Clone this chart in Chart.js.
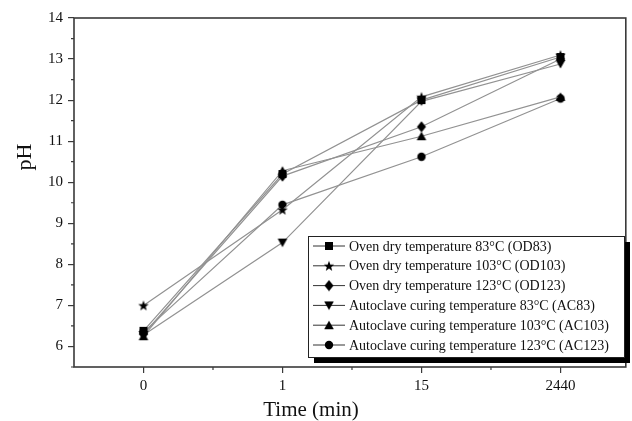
<!DOCTYPE html>
<html lang="en">
<head>
<meta charset="UTF-8">
<title>pH vs time</title>
<script src="https://cdn.jsdelivr.net/npm/chart.js"></script>
<style>
  html, body { margin: 0; padding: 0; background: #fff; }
  #wrap { width: 632px; height: 421px; }
</style>
</head>
<body>
<div id="wrap"><canvas id="myChart" width="632" height="421"></canvas></div>
<script>
// time points (categorical, evenly spaced)
var times = ['0', '1', '15', '2440'];
var yTicks = [6, 7, 8, 9, 10, 11, 12, 13, 14];

var labels = [
  'Oven dry temperature 83\u00B0C (OD83)',
  'Oven dry temperature 103\u00B0C (OD103)',
  'Oven dry temperature 123\u00B0C (OD123)',
  'Autoclave curing temperature 83\u00B0C (AC83)',
  'Autoclave curing temperature 103\u00B0C (AC103)',
  'Autoclave curing temperature 123\u00B0C (AC123)'
];

var od83  = [6.38, 10.20, 12.00, 13.05];
var od103 = [7.00,  9.33, 12.08, 13.10];
var od123 = [6.30, 10.15, 11.35, 13.00];
var ac83  = [6.28,  8.53, 11.97, 12.88];
var ac103 = [6.25, 10.28, 11.12, 12.08];
var ac123 = [6.35,  9.45, 10.62, 12.04];

var shapes = ['square', 'star', 'diamond', 'down', 'up', 'circle'];

// small black marker images
function marker(kind) {
  var c = document.createElement('canvas');
  c.width = 12; c.height = 12;
  var g = c.getContext('2d');
  g.fillStyle = '#000';
  g.beginPath();
  if (kind == 'square') {
    g.rect(2, 2, 8, 8);
  } else if (kind == 'circle') {
    g.arc(6, 6, 4.2, 0, Math.PI * 2);
  } else if (kind == 'diamond') {
    g.moveTo(6, 0.5); g.lineTo(10.5, 6); g.lineTo(6, 11.5); g.lineTo(1.5, 6);
  } else if (kind == 'up') {
    g.moveTo(6, 1.5); g.lineTo(10.8, 10); g.lineTo(1.2, 10);
  } else if (kind == 'down') {
    g.moveTo(1.2, 2); g.lineTo(10.8, 2); g.lineTo(6, 10.5);
  } else if (kind == 'star') {
    for (var k = 0; k < 10; k++) {
      var r = (k % 2 == 0) ? 5.5 : 2.3;
      var a = -Math.PI / 2 + k * Math.PI / 5;
      var px = 6 + r * Math.cos(a), py = 6.5 + r * Math.sin(a);
      if (k == 0) g.moveTo(px, py); else g.lineTo(px, py);
    }
  }
  g.closePath();
  g.fill();
  return c;
}

var icons = shapes.map(marker);
var series = [od83, od103, od123, ac83, ac103, ac123];

var datasets = series.map(function (vals, i) {
  return {
    label: labels[i],
    data: vals.map(function (v, j) { return { x: j, y: v }; }),
    borderColor: '#929292',
    borderWidth: 1.2,
    pointStyle: icons[i],
    pointBackgroundColor: '#000',
    pointBorderColor: '#000',
    fill: false,
    tension: 0
  };
});

var serif = "'Liberation Serif', 'DejaVu Serif', serif";

// frame, minor ticks, axis titles and the shadowed legend box
var extras = {
  id: 'extras',
  afterDraw: function (chart) {
    var ctx = chart.ctx, a = chart.chartArea;
    var xs = chart.scales.x, ys = chart.scales.y;
    ctx.save();
    ctx.strokeStyle = '#3a3a3a';
    ctx.lineWidth = 1.6;
    ctx.strokeRect(a.left, a.top, a.right - a.left, a.bottom - a.top);

    ctx.lineWidth = 1.2;
    ctx.beginPath();
    for (var v = 5.5; v < 14; v += 1) {
      var py = ys.getPixelForValue(v);
      ctx.moveTo(a.left - 3, py); ctx.lineTo(a.left, py);
    }
    for (var u = 0.5; u < 3.4; u += 1) {
      var px = xs.getPixelForValue(u);
      ctx.moveTo(px, a.bottom); ctx.lineTo(px, a.bottom + 3);
    }
    ctx.stroke();

    // axis titles
    ctx.fillStyle = '#111';
    ctx.textAlign = 'center';
    ctx.textBaseline = 'middle';
    ctx.font = '21px ' + serif;
    ctx.fillText('Time (min)', 311, 410);
    ctx.save();
    ctx.translate(25, 157);
    ctx.rotate(-Math.PI / 2);
    ctx.font = '22px ' + serif;
    ctx.fillText('pH', 0, 0);
    ctx.restore();

    // legend
    var bx = 308, by = 236, bw = 316, bh = 121, sh = 6;
    ctx.fillStyle = '#000';
    ctx.fillRect(bx + sh, by + sh, bw, bh);
    ctx.fillStyle = '#fff';
    ctx.fillRect(bx, by, bw, bh);
    ctx.strokeStyle = '#222';
    ctx.lineWidth = 1;
    ctx.strokeRect(bx + 0.5, by + 0.5, bw, bh);

    ctx.font = '14px ' + serif;
    ctx.textBaseline = 'middle';
    ctx.textAlign = 'left';
    chart.data.datasets.forEach(function (ds, i) {
      var ry = by + 10 + i * 19.8;
      ctx.strokeStyle = '#333';
      ctx.lineWidth = 1;
      ctx.beginPath();
      ctx.moveTo(313, ry); ctx.lineTo(345, ry);
      ctx.stroke();
      ctx.drawImage(ds.pointStyle, 329 - 6, ry - 6);
      ctx.fillStyle = '#111';
      ctx.fillText(ds.label, 349, ry + 1);
    });
    ctx.restore();
  }
};

var myChart = new Chart(document.getElementById('myChart').getContext('2d'), {
  type: 'line',
  data: { datasets: datasets },
  plugins: [extras],
  options: {
    responsive: false,
    animation: false,
    layout: { padding: { left: 0, top: 18, right: 3, bottom: 0 } },
    plugins: { legend: { display: false }, tooltip: { enabled: false } },
    elements: { point: { radius: 5 } },
    scales: {
      x: {
        type: 'linear',
        min: -0.5,
        max: 3.47,
        afterBuildTicks: function (s) {
          s.ticks = times.map(function (t, i) { return { value: i }; });
        },
        afterFit: function (s) { s.height = 54; },
        grid: { drawOnChartArea: false, drawTicks: true, tickLength: 6, color: '#3a3a3a', lineWidth: 1.2 },
        border: { display: false },
        ticks: {
          color: '#111',
          padding: 4,
          maxRotation: 0,
          font: { family: serif, size: 15 },
          callback: function (v) { return times[v]; }
        }
      },
      y: {
        min: 5.5,
        max: 14,
        afterBuildTicks: function (s) {
          s.ticks = yTicks.map(function (v) { return { value: v }; });
        },
        afterFit: function (s) { s.width = 74; },
        grid: { drawOnChartArea: false, drawTicks: true, tickLength: 6, color: '#3a3a3a', lineWidth: 1.2 },
        border: { display: false },
        ticks: {
          color: '#111',
          padding: 5,
          font: { family: serif, size: 15 }
        }
      }
    }
  }
});
</script>
</body>
</html>
